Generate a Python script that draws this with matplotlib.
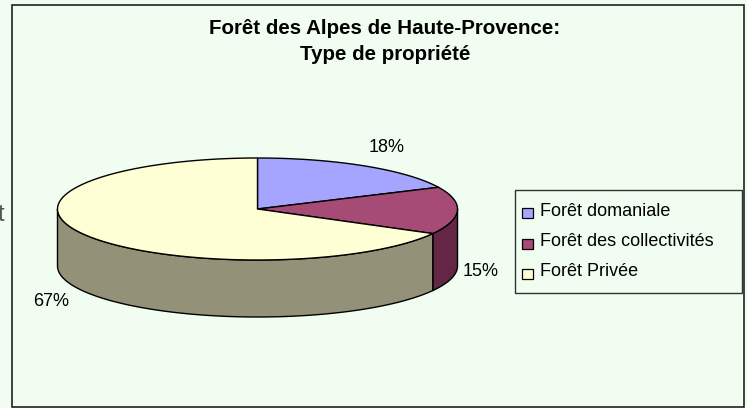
import numpy as np
import matplotlib
matplotlib.use("Agg")
import matplotlib.pyplot as plt
from matplotlib.patches import Polygon, Rectangle

plt.rcParams['font.family'] = ['Liberation Sans', 'DejaVu Sans']

# ---- data ----
categories = ["Forêt domaniale", "Forêt des collectivités", "Forêt Privée"]
values = [18, 15, 67]
pct_labels = ["18%", "15%", "67%"]
title_lines = ["Forêt des Alpes de Haute-Provence:", "Type de propriété"]

top_colors = ["#A5A5FF", "#A64A76", "#FFFFD5"]
side_colors = ["#5F5F99", "#632644", "#939177"]
legend_colors = ["#A5A5FF", "#A64A76", "#FFFFD5"]

W, H = 747, 408
BG = "#F0FDF0"
fig = plt.figure(figsize=(W / 100, H / 100), dpi=100)
fig.patch.set_facecolor(BG)
ax = fig.add_axes([0, 0, 1, 1])
ax.set_xlim(0, W)
ax.set_ylim(H, 0)
ax.axis("off")

# chart border
ax.add_patch(Rectangle((12, 5), 732, 402, facecolor=BG,
                       edgecolor="#222222", lw=1.2, zorder=0))

# pie geometry
cx, cy, rx, ry, depth = 257.5, 209, 200, 51, 57


def pt(theta_deg, dy=0.0):
    t = np.radians(theta_deg)
    return cx + rx * np.cos(t), cy - ry * np.sin(t) + dy


fr = np.array(values, float) / sum(values)
starts = 90 - 360 * np.concatenate([[0], np.cumsum(fr)[:-1]])
ends = starts - 360 * fr

# sides (front half: angles in [-180, 0])
for s, e, col in zip(starts, ends, side_colors):
    lo, hi = max(e, -180), min(s, 0)
    if hi > lo:
        th = np.linspace(hi, lo, 120)
        top = [pt(t) for t in th]
        bot = [pt(t, depth) for t in th[::-1]]
        ax.add_patch(Polygon(top + bot, closed=True, facecolor=col,
                             edgecolor="black", lw=1.0, zorder=2))

# tops
for s, e, col in zip(starts, ends, top_colors):
    th = np.linspace(s, e, 200)
    poly = [(cx, cy)] + [pt(t) for t in th]
    ax.add_patch(Polygon(poly, closed=True, facecolor=col,
                         edgecolor="black", lw=1.0, zorder=3))

# percentage labels
label_pos = [(387, 147), (481, 271), (51.5, 301)]
for (x, y), lab in zip(label_pos, pct_labels):
    ax.text(x, y, lab, fontsize=13, ha="center", va="center", color="black", zorder=5)

# title
ax.text(385, 29, title_lines[0], fontsize=14.8, fontweight="bold", ha="center", va="center")
ax.text(385, 54, title_lines[1], fontsize=14.8, fontweight="bold", ha="center", va="center")

# legend
ax.add_patch(Rectangle((515, 190), 227, 103, facecolor=BG,
                       edgecolor="#333333", lw=1.0, zorder=4))
ys = [211, 242, 272]
for y, lab, col in zip(ys, categories, legend_colors):
    ax.add_patch(Rectangle((522, y - 3), 11, 10, facecolor=col,
                           edgecolor="black", lw=0.9, zorder=5))
    ax.text(540, y, lab, fontsize=13, ha="left", va="center", zorder=5)

# text fragment visible at the left edge of the reference
ax.text(-2, 215, "t", fontsize=17, color="#555555", ha="left", va="center")

fig.savefig("out.png", dpi=100, facecolor=fig.get_facecolor())
